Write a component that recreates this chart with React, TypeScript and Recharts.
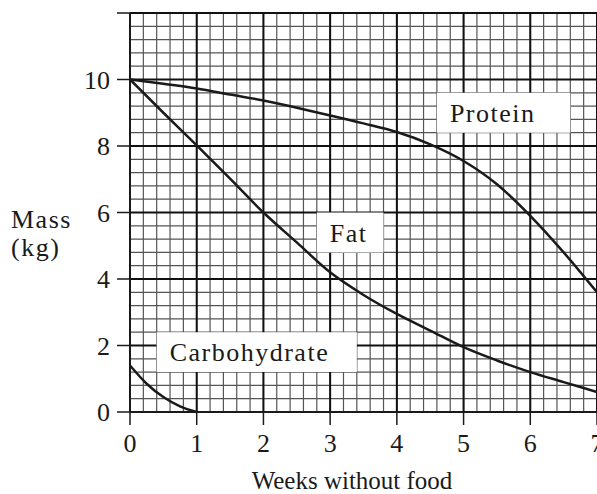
import React from 'react';
import {
  ComposedChart,
  Line,
  XAxis,
  YAxis,
  CartesianGrid,
  ReferenceArea,
  Label,
} from 'recharts';

// Weeks without food (x values)
const weeks = [0, 0.5, 1, 1.5, 2, 2.5, 3, 3.5, 4, 4.5, 5, 5.5, 6, 6.5, 7];
// Mass (kg) of protein
const protein = [10, 9.87, 9.73, 9.55, 9.37, 9.15, 8.92, 8.68, 8.42, 8.05, 7.55, 6.85, 5.9, 4.8, 3.6];
// Mass (kg) of fat
const fat = [10, 9.0, 8.02, 7.02, 6.0, 5.1, 4.2, 3.52, 2.95, 2.45, 1.95, 1.55, 1.2, 0.9, 0.6];
// Carbohydrate (own x values)
const carbWeeks = [0, 0.25, 0.5, 0.75, 1];
const carbohydrate = [1.4, 0.85, 0.45, 0.17, 0];

const xTicks = [0, 1, 2, 3, 4, 5, 6, 7];
const yTicks = [0, 2, 4, 6, 8, 10, 12];
const yTickLabels = ['0', '2', '4', '6', '8', '10', ''];
const X_MAX = 7;
const Y_MAX = 12;
const xMinorTicks = Array.from({ length: 36 }, (_, i) => Math.round(i * 2) / 10);
const yMinorTicks = Array.from({ length: 31 }, (_, i) => Math.round(i * 4) / 10);

// Annotation boxes (in data units)
const boxNames = ['Protein', 'Fat', 'Carbohydrate'];
const boxX1 = [4.6, 2.8, 0.4];
const boxX2 = [6.6, 3.8, 3.4];
const boxY1 = [8.4, 4.8, 1.2];
const boxY2 = [9.6, 6.0, 2.4];

const mainData = weeks.map((w, i) => ({ w, protein: protein[i], fat: fat[i] }));
const carbData = carbWeeks.map((w, i) => ({ w, carb: carbohydrate[i] }));

const FONT = '"Liberation Serif", "Times New Roman", serif';
const INK = '#1a1a1a';

const tickStyle = { fontFamily: FONT, fontSize: 26, fill: INK };

const minorVertical = ({ offset }: any) =>
  xMinorTicks.map((t) => offset.left + (offset.width * t) / X_MAX);
const minorHorizontal = ({ offset }: any) =>
  yMinorTicks.map((t) => offset.top + offset.height - (offset.height * t) / Y_MAX);

export default function App() {
  return (
    <div style={{ position: 'absolute', left: 0, top: 0, width: 597, height: 494, background: '#fff' }}>
      <ComposedChart
        width={597}
        height={494}
        data={mainData}
        margin={{ top: 13, right: 0, bottom: 12, left: 70 }}
      >
        <CartesianGrid
          stroke="#555"
          strokeWidth={1.2}
          verticalCoordinatesGenerator={minorVertical}
          horizontalCoordinatesGenerator={minorHorizontal}
        />
        <CartesianGrid stroke="#111" strokeWidth={2} />
        <XAxis
          dataKey="w"
          type="number"
          domain={[0, X_MAX]}
          ticks={xTicks}
          interval={0}
          allowDataOverflow
          height={70}
          tickSize={13}
          tickMargin={9}
          tick={tickStyle}
          axisLine={{ stroke: INK, strokeWidth: 2 }}
          tickLine={{ stroke: INK, strokeWidth: 1.5 }}
        >
          <Label
            content={() => (
              <text x={352} y={489} textAnchor="middle" fontFamily={FONT} fontSize={25} fill={INK}>
                Weeks without food
              </text>
            )}
          />
        </XAxis>
        <YAxis
          type="number"
          domain={[0, Y_MAX]}
          ticks={yTicks}
          interval={0}
          width={60}
          tickSize={13}
          tickMargin={7}
          tick={tickStyle}
          tickFormatter={(v: number) => yTickLabels[yTicks.indexOf(v)]}
          axisLine={{ stroke: INK, strokeWidth: 2 }}
          tickLine={{ stroke: INK, strokeWidth: 1.5 }}
        >
          <Label
            content={() => (
              <text fontFamily={FONT} fontSize={26} fill={INK} letterSpacing={1.5}>
                <tspan x={11} y={228}>Mass</tspan>
                <tspan x={11} y={256}>(kg)</tspan>
              </text>
            )}
          />
        </YAxis>
        {boxNames.map((name, i) => (
          <ReferenceArea
            key={name}
            x1={boxX1[i]}
            x2={boxX2[i]}
            y1={boxY1[i]}
            y2={boxY2[i]}
            fill="#fff"
            fillOpacity={1}
            stroke="none"
            ifOverflow="visible"
          >
            <Label
              value={name}
              position="insideLeft"
              offset={13}
              fontFamily={FONT}
              fontSize={26}
              fill={INK}
              letterSpacing={1.5}
            />
          </ReferenceArea>
        ))}
        <Line
          dataKey="protein"
          type="monotone"
          stroke={INK}
          strokeWidth={2.5}
          dot={false}
          isAnimationActive={false}
        />
        <Line
          dataKey="fat"
          type="monotone"
          stroke={INK}
          strokeWidth={2.5}
          dot={false}
          isAnimationActive={false}
        />
        <Line
          data={carbData}
          dataKey="carb"
          type="monotone"
          stroke={INK}
          strokeWidth={2.5}
          dot={false}
          isAnimationActive={false}
        />
      </ComposedChart>
    </div>
  );
}
